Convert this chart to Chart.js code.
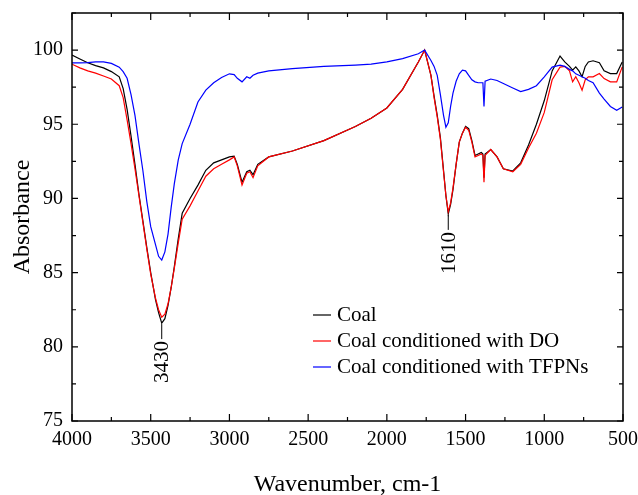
<!DOCTYPE html>
<html>
<head>
<meta charset="utf-8">
<script src="https://cdn.jsdelivr.net/npm/chart.js@4"></script>
<style>
    body { margin: 0; background: #ffffff; }
    #myChartCanvasFTIR { display: block; }
</style>
</head>
<body>
<canvas id="myChartCanvasFTIR" width="638" height="495"></canvas>
<script>

    var numeroOnda = [4000, 3950, 3900, 3850, 3800, 3750, 3700, 3675, 3650, 3625, 3600, 3575, 3550, 3525, 3500,
        3470, 3450, 3430, 3410, 3390, 3370, 3350, 3325, 3300, 3250, 3200, 3150, 3100, 3050, 3000,
        2970, 2950, 2920, 2890, 2870, 2850, 2820, 2750, 2600, 2400, 2200, 2100, 2000, 1900, 1800,
        1760, 1720, 1700, 1680, 1660, 1640, 1625, 1610, 1595, 1580, 1560, 1540, 1520, 1500, 1480,
        1460, 1440, 1420, 1400, 1390, 1383, 1376, 1340, 1300, 1260, 1200, 1150, 1100, 1050, 1000,
        950, 900, 870, 840, 820, 800, 780, 760, 740, 720, 690, 650, 620, 580, 540, 505];

    var coal = [99.66, 99.4, 99.15, 98.95, 98.8, 98.55, 98.2, 97.4, 96.0, 94.2, 92.3, 90.3, 88.5, 86.7, 85.0,
        83.2, 82.3, 81.6, 81.9, 82.8, 84.0, 85.4, 87.3, 89.0, 90.0, 90.9, 91.9, 92.4, 92.6, 92.8,
        92.85, 92.3, 91.1, 91.8, 91.9, 91.6, 92.3, 92.8, 93.2, 93.9, 94.85, 95.4, 96.1, 97.35, 99.2,
        100.0, 98.3, 96.9, 95.6, 94.1, 91.9, 90.2, 88.96, 89.6, 90.6, 92.3, 93.8, 94.4, 94.85, 94.7,
        93.9, 92.9, 93.0, 93.1, 93.0, 91.4, 93.0, 93.3, 92.8, 92.0, 91.85, 92.4, 93.6, 95.0, 96.6,
        98.6, 99.6, 99.2, 98.9, 98.65, 98.87, 98.6, 98.2, 98.9, 99.2, 99.28, 99.15, 98.6, 98.42, 98.42, 99.2];

    var coalDO = [99.05, 98.8, 98.6, 98.45, 98.25, 98.05, 97.6, 96.8, 95.3, 93.7, 92.0, 90.2, 88.4, 86.6, 84.9,
        83.3, 82.5, 82.0, 82.2, 82.9, 84.0, 85.3, 87.0, 88.6, 89.5, 90.5, 91.5, 92.0, 92.3, 92.6,
        92.8, 92.2, 90.9, 91.7, 91.8, 91.4, 92.2, 92.8, 93.2, 93.9, 94.85, 95.4, 96.1, 97.35, 99.2,
        100.0, 98.3, 96.8, 95.5, 94.0, 91.8, 90.2, 89.1, 89.7, 90.7, 92.3, 93.8, 94.4, 94.8, 94.6,
        93.8, 92.8, 92.9, 93.0, 92.9, 91.1, 92.9, 93.3, 92.8, 92.0, 91.8, 92.3, 93.4, 94.4, 95.8,
        98.0, 98.85, 98.9, 98.6, 97.86, 98.2, 97.8, 97.3, 98.0, 98.2, 98.2, 98.42, 98.08, 97.86, 97.86, 98.87];

    var coalTFPN = [99.14, 99.14, 99.15, 99.2, 99.2, 99.1, 98.85, 98.55, 98.1, 97.0, 95.6, 93.7, 91.9, 89.8, 88.1,
        86.9, 86.1, 85.85, 86.4, 87.6, 89.4, 91.0, 92.6, 93.7, 95.0, 96.5, 97.3, 97.8, 98.15, 98.4,
        98.35, 98.1, 97.86, 98.2, 98.1, 98.3, 98.45, 98.6, 98.75, 98.9, 98.99, 99.05, 99.2, 99.43, 99.75,
        100.0, 99.3, 98.9, 98.3, 97.0, 95.6, 94.8, 95.1, 96.2, 97.1, 97.9, 98.4, 98.65, 98.6, 98.3,
        98.0, 97.86, 97.8, 97.8, 97.8, 96.2, 97.9, 98.05, 97.95, 97.75, 97.45, 97.2, 97.35, 97.6, 98.2,
        98.85, 98.99, 98.9, 98.7, 98.6, 98.4, 98.3, 98.2, 98.1, 97.95, 97.8, 97.1, 96.7, 96.2, 95.95, 96.17];

    var nomesSeries = ['Coal', 'Coal conditioned with DO', 'Coal conditioned with TFPNs'];
    var coresSeries = ['#000000', '#ff0000', '#0000ff'];
    var picosMarcados = [3430, 1610];

    Chart.defaults.font.family = "'Liberation Serif', 'Times New Roman', serif";
    Chart.defaults.color = '#000000';

    function montarPontos(valores) {
        var pontos = [];
        for (var i = 0; i < numeroOnda.length; i++) {
            pontos.push({ x: numeroOnda[i], y: valores[i] });
        }
        return pontos;
    }

    // moldura, ticks para dentro, legenda e marcacao dos picos
    var pluginMoldura = {
        id: 'moldura',
        afterDraw: function (chart) {
            var ctx = chart.ctx;
            var area = chart.chartArea;
            var escalaX = chart.scales.x;
            var escalaY = chart.scales.y;

            ctx.save();
            ctx.strokeStyle = '#000000';
            ctx.lineWidth = 1.5;
            ctx.strokeRect(area.left, area.top, area.right - area.left, area.bottom - area.top);

            ctx.lineWidth = 1.2;
            ctx.beginPath();
            for (var v = 500; v <= 4000; v += 250) {
                var px = escalaX.getPixelForValue(v);
                var tam = (v % 500 == 0) ? 7 : 4;
                ctx.moveTo(px, area.bottom);
                ctx.lineTo(px, area.bottom - tam);
                ctx.moveTo(px, area.top);
                ctx.lineTo(px, area.top + tam);
            }
            for (var w = 75; w <= 102.5; w += 2.5) {
                var py = escalaY.getPixelForValue(w);
                var tam2 = (w % 5 == 0) ? 6 : 4;
                ctx.moveTo(area.left, py);
                ctx.lineTo(area.left + tam2, py);
                ctx.moveTo(area.right, py);
                ctx.lineTo(area.right - tam2, py);
            }
            ctx.stroke();

            // picos
            ctx.font = "21px 'Liberation Serif'";
            ctx.fillStyle = '#000000';
            ctx.lineWidth = 1;
            for (var i = 0; i < picosMarcados.length; i++) {
                var idx = numeroOnda.indexOf(picosMarcados[i]);
                var xp = escalaX.getPixelForValue(picosMarcados[i]);
                var yp = escalaY.getPixelForValue(coal[idx]);
                ctx.beginPath();
                ctx.moveTo(xp, yp + 1);
                ctx.lineTo(xp, yp + 16);
                ctx.stroke();
                ctx.save();
                ctx.translate(xp + 1, yp + 18);
                ctx.rotate(-Math.PI / 2);
                ctx.textAlign = 'right';
                ctx.textBaseline = 'middle';
                ctx.fillText(String(picosMarcados[i]), 0, 0);
                ctx.restore();
            }

            // legenda
            ctx.font = "21px 'Liberation Serif'";
            ctx.textAlign = 'left';
            ctx.textBaseline = 'middle';
            for (var j = 0; j < nomesSeries.length; j++) {
                var yl = 315 + j * 26;
                ctx.strokeStyle = coresSeries[j];
                ctx.lineWidth = 1.2;
                ctx.beginPath();
                ctx.moveTo(313, yl);
                ctx.lineTo(331, yl);
                ctx.stroke();
                ctx.fillText(nomesSeries[j], 337, yl);
            }
            ctx.restore();
        }
    };

    var dados = {
        datasets: [
            {
                label: nomesSeries[0],
                data: montarPontos(coal),
                borderColor: coresSeries[0],
                borderWidth: 1.2,
                pointRadius: 0,
                order: 3
            },
            {
                label: nomesSeries[1],
                data: montarPontos(coalDO),
                borderColor: coresSeries[1],
                borderWidth: 1.2,
                pointRadius: 0,
                order: 2
            },
            {
                label: nomesSeries[2],
                data: montarPontos(coalTFPN),
                borderColor: coresSeries[2],
                borderWidth: 1.2,
                pointRadius: 0,
                order: 1
            }
        ]
    };

    var config = {
        type: 'line',
        data: dados,
        options: {
            responsive: false,
            animation: false,
            devicePixelRatio: 1,
            layout: {
                padding: { top: 13, right: 15, left: 0, bottom: 0 }
            },
            plugins: {
                legend: { display: false },
                tooltip: { enabled: false }
            },
            scales: {
                x: {
                    type: 'linear',
                    reverse: true,
                    min: 500,
                    max: 4000,
                    grid: { display: false, drawTicks: false },
                    border: { display: false },
                    ticks: {
                        stepSize: 500,
                        padding: 7,
                        maxRotation: 0,
                        font: { size: 20 },
                        callback: function (valor) { return String(valor); }
                    },
                    title: {
                        display: true,
                        text: 'Wavenumber, cm-1',
                        font: { size: 24, lineHeight: 0.8 },
                        padding: { top: 0, bottom: 1 }
                    },
                    afterFit: function (escala) {
                        escala.height = 74;
                        escala.paddingLeft = 0;
                        escala.paddingRight = 0;
                    }
                },
                y: {
                    min: 75,
                    max: 102.5,
                    grid: { display: false, drawTicks: false },
                    border: { display: false },
                    ticks: {
                        stepSize: 5,
                        includeBounds: false,
                        padding: 9,
                        font: { size: 20 },
                        callback: function (valor) { return String(valor); }
                    },
                    title: {
                        display: true,
                        text: 'Absorbance',
                        font: { size: 24, lineHeight: 1 },
                        padding: { top: 11, bottom: 0 }
                    },
                    afterFit: function (escala) {
                        escala.width = 72;
                        escala.paddingTop = 0;
                        escala.paddingBottom = 0;
                    }
                }
            }
        },
        plugins: [pluginMoldura]
    };

    let myChart = new Chart(
        document.getElementById('myChartCanvasFTIR'),
        config
    );
</script>
</body>
</html>
